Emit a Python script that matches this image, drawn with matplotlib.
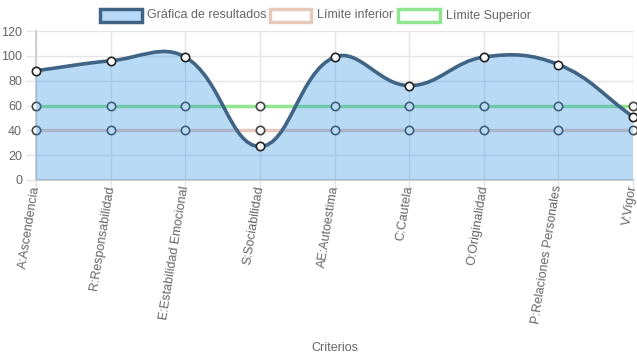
import numpy as np
import matplotlib
matplotlib.use("Agg")
import matplotlib.pyplot as plt
from matplotlib.path import Path
from matplotlib.patches import PathPatch, Rectangle

plt.rcParams['font.family'] = ['Liberation Sans', 'DejaVu Sans']

categories = ["A:Ascendencia", "R:Responsabilidad", "E:Estabilidad Emocional",
              "S:Sociabilidad", "AE:Autoestima", "C:Cautela", "O:Originalidad",
              "P:Relaciones Personales", "V:Vigor"]
resultados = [88, 96, 99, 27, 99, 76, 99, 93, 51]
limite_inferior = [40, 40, 40, 40, 40, 40, 40, 40, 40]
limite_superior = [60, 60, 60, 60, 60, 60, 60, 60, 60]
series_names = ["Gráfica de resultados", "Límite inferior", "Límite Superior"]
y_ticks = [0, 20, 40, 60, 80, 100, 120]
x_title = "Criterios"

W, H = 637, 359
fig = plt.figure(figsize=(W / 100, H / 100), dpi=100)
L, R, T, B = 36, 633, 31, 180
ax = fig.add_axes([L / W, 1 - B / H, (R - L) / W, (B - T) / H])
n = len(categories)
xs = np.arange(n)
ax.set_xlim(0, n - 1)
ax.set_ylim(0, 120)

grid_c = '#e5e5e5'
ax.set_yticks(y_ticks)
ax.set_xticks(xs)
ax.grid(True, color=grid_c, lw=1, zorder=0)
for s in ['top', 'right']:
    ax.spines[s].set_visible(False)
for s in ['left', 'bottom']:
    ax.spines[s].set_color('#d0d0d0')
    ax.spines[s].set_linewidth(1.5)
ax.tick_params(axis='both', color=grid_c, length=7, width=1, labelcolor='#666666', labelsize=9)
ax.set_yticklabels([str(v) for v in y_ticks])
ax.set_xticklabels(categories, rotation=81, ha='right', va='center', rotation_mode='anchor')
ax.tick_params(axis='x', pad=-3)
ax.tick_params(axis='y', pad=3)
ax.set_xlabel(x_title, color='#666666', fontsize=9)
ax.xaxis.set_label_coords(0.5, -1.09)

# limit lines
low_c = '#e6c9bc'
up_c = '#8fe68f'
ax.plot(xs, limite_inferior, color=low_c, lw=2.5, zorder=2, solid_capstyle='butt')
ax.plot(xs, limite_superior, color=up_c, lw=2.5, zorder=2, solid_capstyle='butt')
ax.plot(xs, limite_inferior, ls='none', marker='o', ms=6, mfc='white', mec='#444444', mew=1.2, zorder=3, clip_on=False)
ax.plot(xs, limite_superior, ls='none', marker='o', ms=6, mfc='white', mec='#444444', mew=1.2, zorder=3, clip_on=False)

# Chart.js style bezier (tension 0.4) computed in pixel space
pts = ax.transData.transform(np.column_stack([xs, resultados]).astype(float))
t = 0.4
cps = []
for i in range(n):
    prev = pts[i - 1] if i > 0 else pts[i]
    cur = pts[i]
    nxt = pts[i + 1] if i < n - 1 else pts[i]
    d01 = np.hypot(*(cur - prev))
    d12 = np.hypot(*(nxt - cur))
    tot = d01 + d12
    s01 = d01 / tot if tot else 0
    s12 = d12 / tot if tot else 0
    fa, fb = t * s01, t * s12
    cps.append((cur - fa * (nxt - prev), cur + fb * (nxt - prev)))
verts = [pts[0]]
codes = [Path.MOVETO]
for i in range(n - 1):
    verts += [cps[i][1], cps[i + 1][0], pts[i + 1]]
    codes += [Path.CURVE4] * 3
inv = ax.transData.inverted()
verts_d = inv.transform(np.array(verts))
line_path = Path(verts_d, codes)
fill_verts = list(verts_d) + [(n - 1, 0), (0, 0), (0, 0)]
fill_codes = codes + [Path.LINETO, Path.LINETO, Path.CLOSEPOLY]
fill_path = Path(fill_verts, fill_codes)
ax.add_patch(PathPatch(fill_path, facecolor=(55/255, 149/255, 229/255, 0.35), edgecolor='none', zorder=4))
main_c = '#3f6485'
ax.add_patch(PathPatch(line_path, facecolor='none', edgecolor=main_c, lw=2.6, zorder=5))
ax.plot(xs, resultados, ls='none', marker='o', ms=6, mfc='white', mec='#222222', mew=1.2, zorder=6, clip_on=False)

# legend (manual)
def leg_box(x0, x1, fc, ec, label, tx):
    fig.patches.append(Rectangle((x0 / W, 1 - 22 / H), (x1 - x0) / W, 13 / H,
                                 transform=fig.transFigure, facecolor=fc, edgecolor=ec, lw=2.5))
    fig.text(tx / W, 1 - 15.5 / H, label, color='#666666', fontsize=9, va='center', ha='left')

leg_box(100, 142, '#b9d9f6', main_c, series_names[0], 147)
leg_box(270, 311, 'white', low_c, series_names[1], 317)
leg_box(398, 440, 'white', up_c, series_names[2], 446)

fig.savefig("out.png", dpi=100)
